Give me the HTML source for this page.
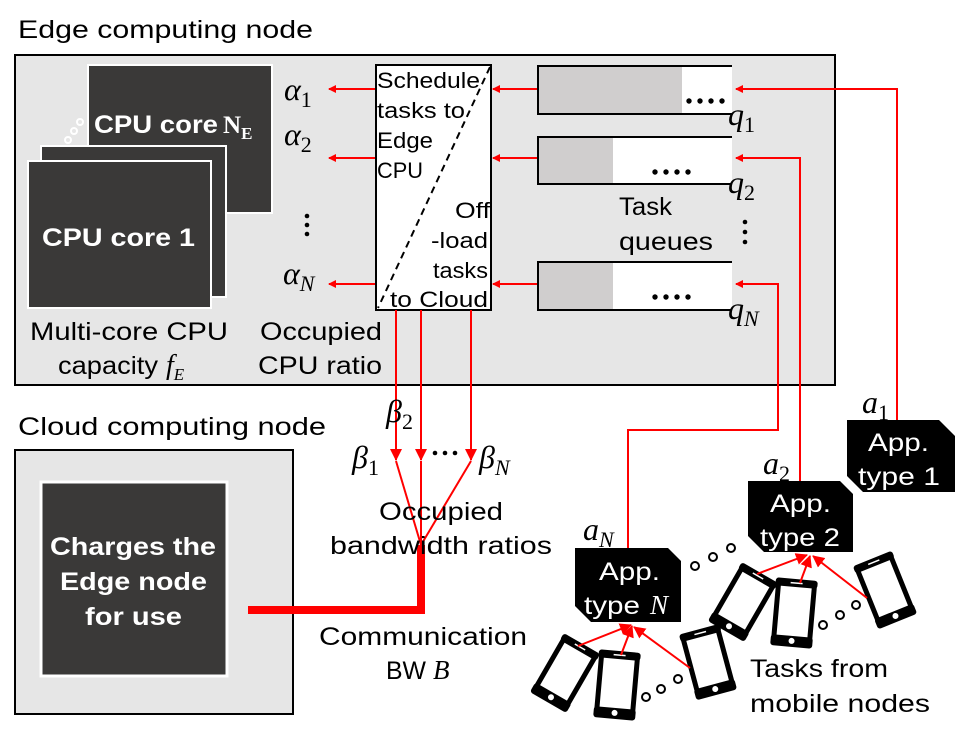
<!DOCTYPE html>
<html><head><meta charset="utf-8"><style>
html,body{margin:0;padding:0;background:#fff;}
svg{display:block;}
text{font-family:"Liberation Sans","Noto Sans CJK KR",sans-serif;}
.m{font-family:"Liberation Serif","DejaVu Serif",serif;font-style:italic;}
.s{font-family:"Liberation Serif","DejaVu Serif",serif;}
</style></head><body>
<svg width="958" height="738" viewBox="0 0 958 738" xmlns="http://www.w3.org/2000/svg">
<defs>
<marker id="ar" markerWidth="8" markerHeight="8" refX="7" refY="4" orient="auto" markerUnits="userSpaceOnUse" viewBox="0 0 8 8">
<path d="M0,0 L8,4 L0,8 z" fill="#f00"/></marker>
<marker id="ar2" markerWidth="12" markerHeight="12" refX="11" refY="6" orient="auto" markerUnits="userSpaceOnUse" viewBox="0 0 12 12">
<path d="M0,0 L12,6 L0,12 z" fill="#f00"/></marker>
<g id="ph">
<rect x="-18" y="-31" width="36" height="62" rx="4" fill="#fff" stroke="#000" stroke-width="5"/>
<rect x="-21" y="-34" width="42" height="8" rx="3" fill="#000"/>
<rect x="-21" y="23" width="42" height="11" rx="3" fill="#000"/>
<line x1="-6" y1="-30" x2="6" y2="-30" stroke="#fff" stroke-width="1.5"/>
<circle cx="0" cy="28" r="3" fill="#fff"/>
</g>
</defs>
<text x="18" y="38" font-size="25" textLength="295" lengthAdjust="spacingAndGlyphs">Edge computing node</text>
<rect x="15" y="55" width="820" height="330" fill="#e6e6e6" stroke="#000" stroke-width="2"/>
<rect x="88" y="65" width="184" height="148" fill="#3a3938" stroke="#fff" stroke-width="2"/>
<text x="94" y="133" font-size="25" font-weight="bold" fill="#fff" textLength="124" lengthAdjust="spacingAndGlyphs">CPU core</text>
<text x="223" y="133" font-size="25" font-weight="bold" fill="#fff" class="s">N<tspan font-size="17" dy="6">E</tspan></text>
<circle cx="68" cy="140" r="3" fill="none" stroke="#fff" stroke-width="2"/>
<circle cx="74" cy="131" r="3" fill="none" stroke="#fff" stroke-width="2"/>
<circle cx="80" cy="122" r="3" fill="none" stroke="#fff" stroke-width="2"/>
<rect x="41" y="146" width="185" height="151" fill="#3a3938" stroke="#fff" stroke-width="2"/>
<rect x="28" y="161" width="183" height="147" fill="#3a3938" stroke="#fff" stroke-width="2"/>
<text x="42" y="246" font-size="25" font-weight="bold" fill="#fff" textLength="153" lengthAdjust="spacingAndGlyphs">CPU core 1</text>
<text x="30" y="340" font-size="25" textLength="198" lengthAdjust="spacingAndGlyphs">Multi-core CPU</text>
<text x="58" y="374" font-size="25" textLength="100" lengthAdjust="spacingAndGlyphs">capacity</text>
<text x="166" y="374" class="m" font-size="28">f<tspan font-size="17" dy="6">E</tspan></text>
<text x="260" y="340" font-size="25" textLength="122" lengthAdjust="spacingAndGlyphs">Occupied</text>
<text x="258" y="374" font-size="25" textLength="124" lengthAdjust="spacingAndGlyphs">CPU ratio</text>
<text class="m" x="284" y="100" font-size="32">α<tspan font-size="22" font-style="normal" dy="7">1</tspan></text>
<text class="m" x="284" y="145" font-size="32">α<tspan font-size="22" font-style="normal" dy="7">2</tspan></text>
<circle cx="307" cy="216" r="2.3" /><circle cx="307" cy="225" r="2.3"/><circle cx="307" cy="234" r="2.3"/>
<text class="m" x="283" y="284" font-size="32">α<tspan font-size="22" dy="7">N</tspan></text>
<g stroke="#f00" stroke-width="2" fill="none">
<line x1="376" y1="89" x2="329" y2="89" marker-end="url(#ar)"/>
<line x1="376" y1="158" x2="329" y2="158" marker-end="url(#ar)"/>
<line x1="376" y1="284" x2="329" y2="284" marker-end="url(#ar)"/>
<line x1="538" y1="89" x2="493" y2="89" marker-end="url(#ar)"/>
<line x1="538" y1="158" x2="493" y2="158" marker-end="url(#ar)"/>
<line x1="538" y1="284" x2="493" y2="284" marker-end="url(#ar)"/>
</g>
<rect x="376" y="65" width="115" height="245" fill="#fff" stroke="#000" stroke-width="2"/>
<line x1="490" y1="67" x2="378" y2="308" stroke="#000" stroke-width="2" stroke-dasharray="7,5"/>
<g font-size="22">
<text x="377" y="88" textLength="103" lengthAdjust="spacingAndGlyphs">Schedule</text>
<text x="377" y="118" textLength="88" lengthAdjust="spacingAndGlyphs">tasks to</text>
<text x="377" y="148" textLength="56" lengthAdjust="spacingAndGlyphs">Edge</text>
<text x="377" y="178" textLength="46" lengthAdjust="spacingAndGlyphs">CPU</text>
<text x="455" y="218" textLength="35" lengthAdjust="spacingAndGlyphs">Off</text>
<text x="431" y="248" textLength="57" lengthAdjust="spacingAndGlyphs">-load</text>
<text x="433" y="278" textLength="55" lengthAdjust="spacingAndGlyphs">tasks</text>
<text x="390" y="307" textLength="98" lengthAdjust="spacingAndGlyphs">to Cloud</text>
</g>
<g>
<rect x="538" y="66" width="194" height="48" fill="#fff"/><rect x="538" y="66" width="144" height="48" fill="#d0cece"/>
<path d="M732,66 H538 V114 H732" fill="none" stroke="#000" stroke-width="2"/>
<rect x="538" y="137" width="194" height="47" fill="#fff"/><rect x="538" y="137" width="75" height="47" fill="#d0cece"/>
<path d="M732,137 H538 V184 H732" fill="none" stroke="#000" stroke-width="2"/>
<rect x="538" y="262" width="194" height="48" fill="#fff"/><rect x="538" y="262" width="75" height="48" fill="#d0cece"/>
<path d="M732,262 H538 V310 H732" fill="none" stroke="#000" stroke-width="2"/>
</g>
<g fill="#000">
<circle cx="689" cy="101" r="2.7"/><circle cx="700" cy="101" r="2.7"/><circle cx="711" cy="101" r="2.7"/><circle cx="722" cy="101" r="2.7"/>
<circle cx="655" cy="172" r="2.7"/><circle cx="666" cy="172" r="2.7"/><circle cx="677" cy="172" r="2.7"/><circle cx="688" cy="172" r="2.7"/>
<circle cx="655" cy="297" r="2.7"/><circle cx="666" cy="297" r="2.7"/><circle cx="677" cy="297" r="2.7"/><circle cx="688" cy="297" r="2.7"/>
<circle cx="745" cy="222" r="2.3"/><circle cx="745" cy="232" r="2.3"/><circle cx="745" cy="242" r="2.3"/>
</g>
<text class="m" x="728" y="125" font-size="32">q<tspan font-size="22" font-style="normal" dy="7">1</tspan></text>
<text class="m" x="728" y="193" font-size="32">q<tspan font-size="22" font-style="normal" dy="7">2</tspan></text>
<text class="m" x="728" y="319" font-size="32">q<tspan font-size="22" dy="7">N</tspan></text>
<text x="619" y="215" font-size="25" textLength="53" lengthAdjust="spacingAndGlyphs">Task</text>
<text x="619" y="250" font-size="25" textLength="94" lengthAdjust="spacingAndGlyphs">queues</text>
<g stroke="#f00" stroke-width="2" fill="none">
<polyline points="897,420 897,89 736,89" marker-end="url(#ar)"/>
<polyline points="800,481 800,158 736,158" marker-end="url(#ar)"/>
<polyline points="628,548 628,430 778,430 778,284 736,284" marker-end="url(#ar)"/>
</g>
<text x="18" y="435" font-size="25" textLength="308" lengthAdjust="spacingAndGlyphs">Cloud computing node</text>
<rect x="15" y="450" width="278" height="264" fill="#e6e6e6" stroke="#000" stroke-width="2"/>
<rect x="41" y="482" width="186" height="194" fill="#3a3938" stroke="#fff" stroke-width="3"/>
<g font-size="25" font-weight="bold" fill="#fff">
<text x="50" y="555" textLength="166" lengthAdjust="spacingAndGlyphs">Charges the</text>
<text x="60" y="590" textLength="147" lengthAdjust="spacingAndGlyphs">Edge node</text>
<text x="85" y="625" textLength="97" lengthAdjust="spacingAndGlyphs">for use</text>
</g>
<g stroke="#f00" stroke-width="2" fill="none">
<line x1="396" y1="310" x2="396" y2="460" marker-end="url(#ar2)"/>
<line x1="421" y1="310" x2="421" y2="460" marker-end="url(#ar2)"/>
<line x1="471" y1="310" x2="471" y2="460" marker-end="url(#ar2)"/>
<line x1="396" y1="461" x2="421" y2="545"/>
<line x1="421" y1="461" x2="421" y2="545"/>
<line x1="471" y1="461" x2="421" y2="545"/>
</g>
<polyline points="421,545 421,610 248,610" stroke="#f00" stroke-width="8" fill="none"/>
<text class="m" x="386" y="422" font-size="32">β<tspan font-size="22" font-style="normal" dy="7">2</tspan></text>
<text class="m" x="352" y="468" font-size="32">β<tspan font-size="22" font-style="normal" dy="7">1</tspan></text>
<text class="m" x="479" y="468" font-size="32">β<tspan font-size="22" dy="7">N</tspan></text>
<circle cx="435" cy="453" r="2.3"/><circle cx="445" cy="453" r="2.3"/><circle cx="455" cy="453" r="2.3"/>
<text x="379" y="520" font-size="25" textLength="124" lengthAdjust="spacingAndGlyphs">Occupied</text>
<text x="330" y="554" font-size="25" textLength="222" lengthAdjust="spacingAndGlyphs">bandwidth ratios</text>
<text x="319" y="645" font-size="25" textLength="208" lengthAdjust="spacingAndGlyphs">Communication</text>
<text x="386" y="679" font-size="25" textLength="40" lengthAdjust="spacingAndGlyphs">BW</text>
<text x="433" y="679" class="m" font-size="27">B</text>
<path d="M847,420 H939 L955,436 V492 H863 L847,476 Z" fill="#000"/>
<path d="M748,481 H840 L853,494 V552 H764 L748,536 Z" fill="#000"/>
<path d="M575,548 H668 L681,561 V622 H591 L575,606 Z" fill="#000"/>
<g fill="#fff" font-size="25">
<text x="868" y="451" textLength="61" lengthAdjust="spacingAndGlyphs">App.</text><text x="858" y="485" textLength="82" lengthAdjust="spacingAndGlyphs">type 1</text>
<text x="770" y="512" textLength="61" lengthAdjust="spacingAndGlyphs">App.</text><text x="760" y="546" textLength="80" lengthAdjust="spacingAndGlyphs">type 2</text>
<text x="599" y="580" textLength="61" lengthAdjust="spacingAndGlyphs">App.</text><text x="584" y="614" textLength="56" lengthAdjust="spacingAndGlyphs">type</text>
<text x="650" y="614" class="m" font-size="27">N</text>
</g>
<text class="m" x="862" y="413" font-size="32">a<tspan font-size="22" font-style="normal" dy="7">1</tspan></text>
<text class="m" x="763" y="474" font-size="32">a<tspan font-size="22" font-style="normal" dy="7">2</tspan></text>
<text class="m" x="583" y="540" font-size="32">a<tspan font-size="22" dy="7">N</tspan></text>
<use href="#ph" transform="translate(565,673) rotate(30)"/>
<use href="#ph" transform="translate(617,685) rotate(5)"/>
<use href="#ph" transform="translate(708,662) rotate(-15)"/>
<use href="#ph" transform="translate(743,602) rotate(30)"/>
<use href="#ph" transform="translate(794,613) rotate(5)"/>
<use href="#ph" transform="translate(885,590) rotate(-22)"/>
<g stroke="#f00" stroke-width="2" fill="none">
<line x1="578" y1="646" x2="631" y2="625" marker-end="url(#ar2)"/>
<line x1="621" y1="655" x2="632" y2="626" marker-end="url(#ar2)"/>
<line x1="690" y1="668" x2="634" y2="627" marker-end="url(#ar2)"/>
<line x1="757" y1="574" x2="807" y2="555" marker-end="url(#ar2)"/>
<line x1="800" y1="583" x2="810" y2="556" marker-end="url(#ar2)"/>
<line x1="867" y1="598" x2="813" y2="556" marker-end="url(#ar2)"/>
</g>
<g fill="#fff" stroke="#000" stroke-width="2">
<circle cx="646" cy="697" r="4"/><circle cx="661" cy="689" r="4"/><circle cx="678" cy="679" r="4"/>
<circle cx="695" cy="566" r="4"/><circle cx="713" cy="557" r="4"/><circle cx="731" cy="548" r="4"/>
<circle cx="823" cy="625" r="4"/><circle cx="840" cy="615" r="4"/><circle cx="856" cy="605" r="4"/>
</g>
<text x="750" y="677" font-size="25" textLength="138" lengthAdjust="spacingAndGlyphs">Tasks from</text>
<text x="750" y="712" font-size="25" textLength="180" lengthAdjust="spacingAndGlyphs">mobile nodes</text>
</svg>
</body></html>
